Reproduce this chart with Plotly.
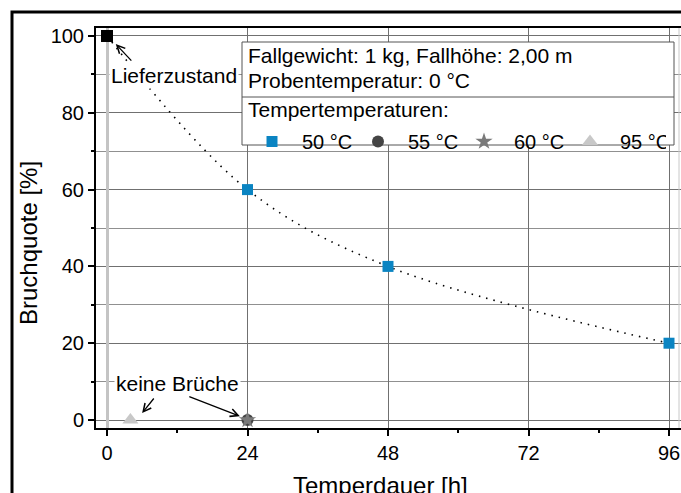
import plotly.graph_objects as go

# ---- data ----
lief_x = [0]
lief_y = [100]
t50_x = [24, 48, 96]
t50_y = [60, 40, 20]
t55_x = [24]
t55_y = [0]
t60_x = [24]
t60_y = [0]
t95_x = [4]
t95_y = [0]
fit_x = [0, 24, 48, 96]
fit_y = [100, 60, 40, 20]
x_ticks = [0, 24, 48, 72, 96]
y_ticks = [0, 20, 40, 60, 80, 100]

FONT = "Liberation Sans, Arial, sans-serif"

fig = go.Figure()
fig.add_trace(go.Scatter(x=fit_x, y=fit_y, mode="lines", line=dict(color="black", width=1.6, dash="1.5px,6px", shape="spline"),
                         showlegend=False, hoverinfo="skip"))
fig.add_trace(go.Scatter(x=t50_x, y=t50_y, mode="markers", name="50 °C",
                         marker=dict(symbol="square", size=11, color="#0a84c2")))
fig.add_trace(go.Scatter(x=t55_x, y=t55_y, mode="markers", name="55 °C",
                         marker=dict(symbol="circle", size=12, color="#444444")))
fig.add_trace(go.Scatter(x=t60_x, y=t60_y, mode="markers", name="60 °C",
                         marker=dict(symbol="star", size=13, color="#7a7a7a")))
fig.add_trace(go.Scatter(x=t95_x, y=t95_y, mode="markers", name="95 °C",
                         marker=dict(symbol="triangle-up", size=14, color="#c8c8c8")))
fig.add_trace(go.Scatter(x=lief_x, y=lief_y, mode="markers", showlegend=False,
                         marker=dict(symbol="square", size=12, color="black")))

def px2x(p):
    return (p - 96) / 585.0

def px2y(p):
    return (428 - p) / 400.0

shapes = [
    # outer frame
    dict(type="rect", xref="paper", yref="paper", x0=px2x(12), x1=1.3, y0=-0.5, y1=px2y(12),
         line=dict(color="black", width=3), fillcolor="rgba(0,0,0,0)", layer="above"),
    # right plot border (light)
    dict(type="line", xref="paper", yref="paper", x0=px2x(679), x1=px2x(679), y0=0, y1=1,
         line=dict(color="#c8c8c8", width=1), layer="above"),
    # legend box
    dict(type="rect", xref="paper", yref="paper", x0=px2x(242), x1=px2x(674), y0=px2y(145), y1=px2y(42),
         line=dict(color="#555555", width=1), fillcolor="white", layer="above"),
    dict(type="line", xref="paper", yref="paper", x0=px2x(242), x1=px2x(674), y0=px2y(97), y1=px2y(97),
         line=dict(color="#555555", width=1), layer="above"),
]

annotations = [
    dict(xref="paper", yref="paper", x=px2x(246), y=px2y(56), xanchor="left", yanchor="middle",
         text="Fallgewicht: 1 kg, Fallhöhe: 2,00 m", showarrow=False, font=dict(size=21, color="black", family=FONT)),
    dict(xref="paper", yref="paper", x=px2x(246), y=px2y(80), xanchor="left", yanchor="middle",
         text="Probentemperatur: 0 °C", showarrow=False, font=dict(size=21, color="black", family=FONT)),
    dict(xref="paper", yref="paper", x=px2x(246), y=px2y(110), xanchor="left", yanchor="middle",
         text="Tempertemperaturen:", showarrow=False, font=dict(size=21, color="black", family=FONT)),
    # Lieferzustand
    dict(x=11.45, y=89.8, text="Lieferzustand", showarrow=False, bgcolor="white",
         font=dict(size=21, color="black", family=FONT)),
    dict(x=1.5, y=97.9, ax=4.4, ay=93.2, axref="x", ayref="y", text="", showarrow=True,
         arrowhead=5, arrowsize=1.2, arrowwidth=1.3, arrowcolor="black"),
    # keine Brüche
    dict(x=12.1, y=9.6, text="keine Brüche", showarrow=False, bgcolor="white",
         font=dict(size=21, color="black", family=FONT)),
    dict(x=6.0, y=1.8, ax=8.2, ay=6.0, axref="x", ayref="y", text="", showarrow=True,
         arrowhead=5, arrowsize=1.2, arrowwidth=1.3, arrowcolor="black"),
    dict(x=22.7, y=1.0, ax=13.8, ay=6.25, axref="x", ayref="y", text="", showarrow=True,
         arrowhead=5, arrowsize=1.2, arrowwidth=1.3, arrowcolor="black"),
    # axis titles
    dict(xref="paper", yref="paper", x=px2x(28), y=px2y(243), xanchor="center", yanchor="middle",
         text="Bruchquote [%]", textangle=-90,
         showarrow=False, font=dict(size=24, color="black", family=FONT)),
    dict(xref="paper", yref="paper", x=px2x(380), y=px2y(485), xanchor="center", yanchor="middle",
         text="Temperdauer [h]",
         showarrow=False, font=dict(size=24, color="black", family=FONT)),
]

fig.update_layout(
    width=681, height=493,
    margin=dict(l=96, r=0, t=28, b=65, autoexpand=False),
    paper_bgcolor="white", plot_bgcolor="white",
    font=dict(family=FONT, size=20, color="black"),
    shapes=shapes, annotations=annotations,
    showlegend=True,
    legend=dict(x=px2x(242), y=px2y(122), xanchor="left", yanchor="top", orientation="h",
                bgcolor="rgba(0,0,0,0)", borderwidth=0,
                font=dict(size=20, family=FONT), itemwidth=50,
                entrywidth=41, entrywidthmode="pixels", tracegroupgap=0),
)

fig.update_xaxes(
    range=[-1.879, 98.05], tickvals=x_ticks, ticktext=[str(v) for v in x_ticks],
    showgrid=True, gridcolor="#707070", gridwidth=1,
    zeroline=True, zerolinecolor="#c4c4c4", zerolinewidth=3,
    showline=True, linecolor="black", linewidth=2, mirror=True,
    ticks="outside", ticklen=6, tickwidth=1.5, tickcolor="black",
    minor=dict(tickvals=[12, 36, 60, 84], ticks="outside", ticklen=3, tickcolor="black", showgrid=False),
    tickfont=dict(size=20, family=FONT),
)
fig.update_yaxes(
    range=[-2.08, 102.08], tickvals=y_ticks, ticktext=[str(v) for v in y_ticks],
    showgrid=True, gridcolor="#707070", gridwidth=1, zeroline=False,
    showline=True, linecolor="black", linewidth=2, mirror=False,
    ticks="outside", ticklen=6, tickwidth=1.5, tickcolor="black",
    minor=dict(tickvals=[10, 30, 50, 70, 90], ticks="outside", ticklen=3, tickcolor="black",
               showgrid=True, gridcolor="#909090", gridwidth=1),
    tickfont=dict(size=20, family=FONT),
)

fig.write_html("out.html", config={"displayModeBar": False},
               post_script="document.body.style.margin='0';document.body.style.overflow='hidden';")
